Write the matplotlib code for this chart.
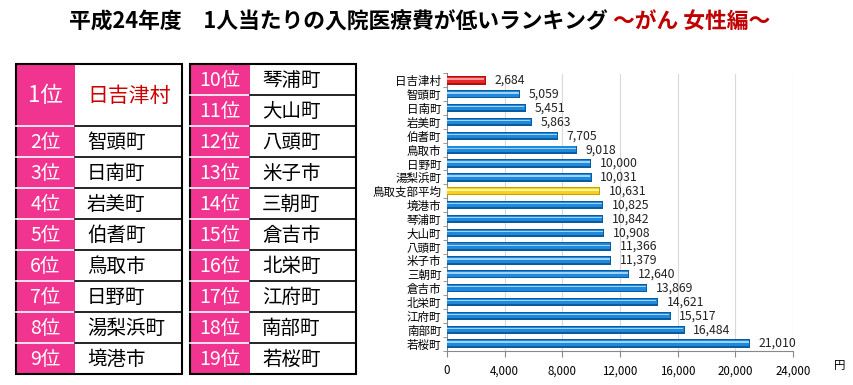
import matplotlib.pyplot as plt
from matplotlib.patches import Rectangle
from matplotlib.ticker import FuncFormatter, FixedLocator

plt.rcParams['font.family'] = ['Noto Sans CJK JP', 'DejaVu Sans']

# data
names = ['日吉津村', '智頭町', '日南町', '岩美町', '伯耆町', '鳥取市', '日野町', '湯梨浜町',
         '鳥取支部平均', '境港市', '琴浦町', '大山町', '八頭町', '米子市', '三朝町', '倉吉市',
         '北栄町', '江府町', '南部町', '若桜町']
values = [2684, 5059, 5451, 5863, 7705, 9018, 10000, 10031, 10631, 10825, 10842, 10908,
          11366, 11379, 12640, 13869, 14621, 15517, 16484, 21010]
avg_name = '鳥取支部平均'
x_ticks = [0, 4000, 8000, 12000, 16000, 20000, 24000]

rank_names = [n for n in names if n != avg_name]

pink = '#F0348F'
W, H = 854, 385
fig = plt.figure(figsize=(W / 100, H / 100), dpi=100)

# overlay in pixel coords for title and tables
ov = fig.add_axes([0, 0, 1, 1])
ov.set_xlim(0, W)
ov.set_ylim(H, 0)
ov.axis('off')

ov.text(608, 22, '平成24年度　1人当たりの入院医療費が低いランキング', ha='right', va='center',
        fontsize=15.7, fontweight='bold', color='black')
ov.text(613, 22, '～がん 女性編～', ha='left', va='center',
        fontsize=15.7, fontweight='bold', color='#C00000')


def draw_table(x0, xm, x1, y0, heights, ranks, labels, first_big=False):
    y = y0
    ytot = y0 + sum(heights)
    ov.add_patch(Rectangle((x0, y0), xm - x0, ytot - y0, facecolor=pink, edgecolor='none'))
    ov.add_patch(Rectangle((xm, y0), x1 - xm, ytot - y0, facecolor='white', edgecolor='none'))
    for i, (h, r, lab) in enumerate(zip(heights, ranks, labels)):
        cy = y + h / 2
        big = first_big and i == 0
        ov.text((x0 + xm) / 2, cy + 1, f'{r}位', ha='center', va='center', color='white',
                fontsize=16 if big else 14)
        ov.text(xm + 12, cy + 1, lab, ha='left', va='center',
                color='#CC0000' if big else 'black', fontsize=15 if big else 14)
        if i > 0:
            ov.plot([x0, xm], [y, y], color='white', lw=1.2)
            ov.plot([xm, x1], [y, y], color='black', lw=1.2)
        y += h
    ov.add_patch(Rectangle((x0, y0), x1 - x0, ytot - y0, facecolor='none',
                           edgecolor='black', lw=1.5))


draw_table(16, 75, 182, 64, [62] + [31] * 8, range(1, 10), rank_names[:9], first_big=True)
draw_table(190, 250, 356, 64, [31] * 10, range(10, 20), rank_names[9:])

# bar chart
ax = fig.add_axes([447 / W, 1 - 350.5 / H, 346 / W, (350.5 - 73.5) / H])
ypos = list(range(len(names)))
for y, n, v in zip(ypos, names, values):
    if y == 0:
        c = ('#B01010', '#E82828', '#FF9A9A')
    elif n == avg_name:
        c = ('#C8A000', '#F7D21A', '#FFF4A0')
    else:
        c = ('#0B5C9E', '#1F8ADB', '#9FD3FF')
    ax.barh(y, v, height=0.6, color=c[0], zorder=3)
    ax.barh(y - 0.03, v - 60, height=0.4, color=c[1], zorder=4)
    ax.barh(y - 0.1, v - 90, height=0.1, color=c[2], zorder=5)
    ax.text(v + 600, y, f'{v:,}', ha='left', va='center', fontsize=8.8, color='#222222')

ax.set_ylim(len(names) - 0.5, -0.5)
ax.set_xlim(0, 24000)
ax.set_yticks(ypos)
ax.set_yticklabels(names, fontsize=8.3)
ax.yaxis.set_minor_locator(FixedLocator([i + 0.5 for i in range(-1, len(names))]))
ax.tick_params(axis='y', which='major', length=0, pad=4)
ax.tick_params(axis='y', which='minor', length=3, color='#888888')
ax.set_xticks(x_ticks)
ax.xaxis.set_major_formatter(FuncFormatter(lambda v, p: f'{int(v):,}'))
ax.tick_params(axis='x', length=4, color='#888888', labelsize=8.3, pad=6)
ax.grid(axis='x', color='#D9D9D9', lw=0.8, zorder=0)
for s in ['top', 'right']:
    ax.spines[s].set_visible(False)
for s in ['left', 'bottom']:
    ax.spines[s].set_color('#888888')
    ax.spines[s].set_linewidth(0.8)

ov.text(840, 366, '円', ha='center', va='center', fontsize=8.3)

fig.savefig('out.png', dpi=100)
